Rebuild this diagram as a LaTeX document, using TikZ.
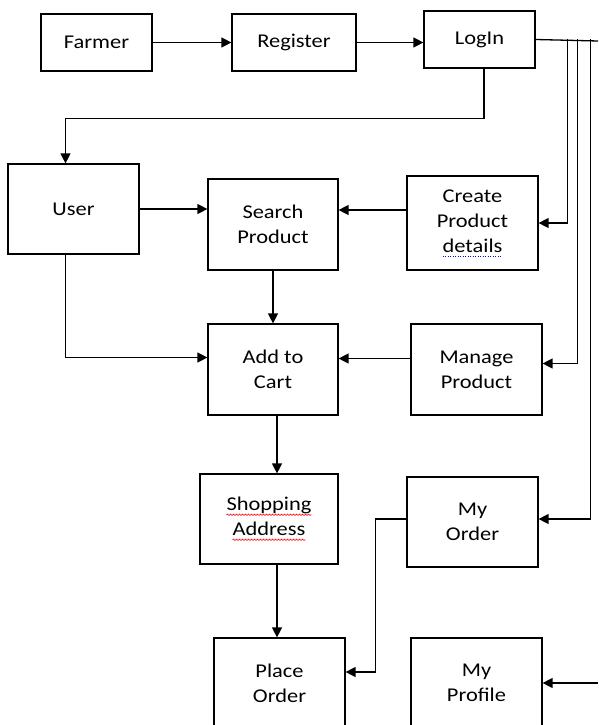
\documentclass[tikz,border=0pt]{standalone}
\usepackage{fontspec}
\setmainfont{Carlito}[FakeStretch=1.15]
\usepackage{xcolor}
\usepackage{tikz}
\usetikzlibrary{arrows.meta,decorations.pathmorphing}
\tikzset{plainword/.style={draw=none,inner sep=0pt,outer sep=0pt,minimum width=0pt,minimum height=0pt}}
\newcommand{\spellwave}[1]{\tikz[baseline=(w.base)]{\node[plainword] (w) {#1};
  \draw[red,line width=0.6pt,decorate,decoration={snake,amplitude=0.7pt,segment length=3pt}]
    ([yshift=-4pt]w.base west) -- ([yshift=-4pt]w.base east);}}
\newcommand{\grammardots}[1]{\tikz[baseline=(w.base)]{\node[plainword] (w) {#1};
  \draw[blue,line width=1pt,dash pattern=on 1pt off 1.5pt]
    ([yshift=-4pt]w.base west) -- ([yshift=-4pt]w.base east);}}

\begin{document}
\begin{tikzpicture}[x=1pt,y=-1pt,
    block/.style={draw,line width=1.2pt,align=center,inner sep=0pt,
      font=\fontsize{19.5}{25}\selectfont},
    flow/.style={line width=1.3pt,-{Triangle[length=10pt,width=10pt]}},
    wire/.style={line width=1.3pt}]
  \useasboundingbox (0,0) rectangle (598,725);

  \node[block,minimum width=111pt,minimum height=57pt] (farmer) at (96.5,42.5) {Farmer};
  \node[block,minimum width=124pt,minimum height=57pt] (register) at (294,42.5) {Register};
  \node[block,minimum width=111pt,minimum height=57pt] (login) at (479.5,39.5) {LogIn};

  \node[block,minimum width=131pt,minimum height=90pt] (user) at (73.5,209) {User};
  \node[block,minimum width=130pt,minimum height=91pt] (search) at (273,224.5) {Search\\Product};
  \node[block,minimum width=131pt,minimum height=94pt] (create) at (472.5,223) {Create\\Product\\\grammardots{details}};

  \node[block,minimum width=130pt,minimum height=91pt] (addcart) at (273,369.5) {Add to\\Cart};
  \node[block,minimum width=131pt,minimum height=91pt] (manage) at (476.5,369.5) {Manage\\Product};

  \node[block,minimum width=138pt,minimum height=90pt] (shopping) at (269,519) {\spellwave{Shopping}\\\spellwave{Address}};
  \node[block,minimum width=131pt,minimum height=90pt] (myorder) at (472.5,522) {My\\Order};

  \node[block,minimum width=131pt,minimum height=90pt] (placeorder) at (279.5,683) {Place\\Order};
  \node[block,minimum width=131pt,minimum height=90pt] (myprofile) at (476.5,683) {My\\Profile};

  \coordinate (railend) at (598,41);
  \coordinate (profilein) at (598,683);

  \draw[flow] (farmer.east) -- (register.west);
  \draw[flow] (register.east) -- (register.east -| login.west);
  \draw[wire] (login.east) -- (railend);

  \draw[flow] ([xshift=4.5pt]login.south) -- ++(0,-50pt) -| ([xshift=-8pt]user.north);
  \draw[flow] ([xshift=32pt]login.east) |- (create.east);
  \draw[flow] ([xshift=42pt]login.east) |- ([yshift=6pt]manage.east);
  \draw[flow] ([xshift=55pt]login.east) |- ([yshift=3pt]myorder.east);
  \draw[flow] (profilein) -- (profilein -| myprofile.east);

  \draw[flow] (user.east) -- (user.east -| search.west);
  \draw[flow] ([yshift=13pt]create.west) -- ([yshift=13pt]create.west -| search.east);
  \draw[flow] (search.south) -- (addcart.north);
  \draw[flow] ([xshift=-8pt]user.south) |- ([yshift=12pt]addcart.west);
  \draw[flow] ([yshift=11pt]manage.west) -- ([yshift=11pt]manage.west -| addcart.east);

  \draw[flow] ([xshift=4pt]addcart.south) -- ([xshift=4pt]addcart.south |- shopping.north);
  \draw[flow] ([xshift=4pt]addcart.south |- shopping.south) -- ([xshift=4pt]addcart.south |- placeorder.north);
  \draw[flow] ([yshift=3pt]myorder.west) -- ++(-31pt,0) |- ([yshift=11pt]placeorder.east);
\end{tikzpicture}
\end{document}
